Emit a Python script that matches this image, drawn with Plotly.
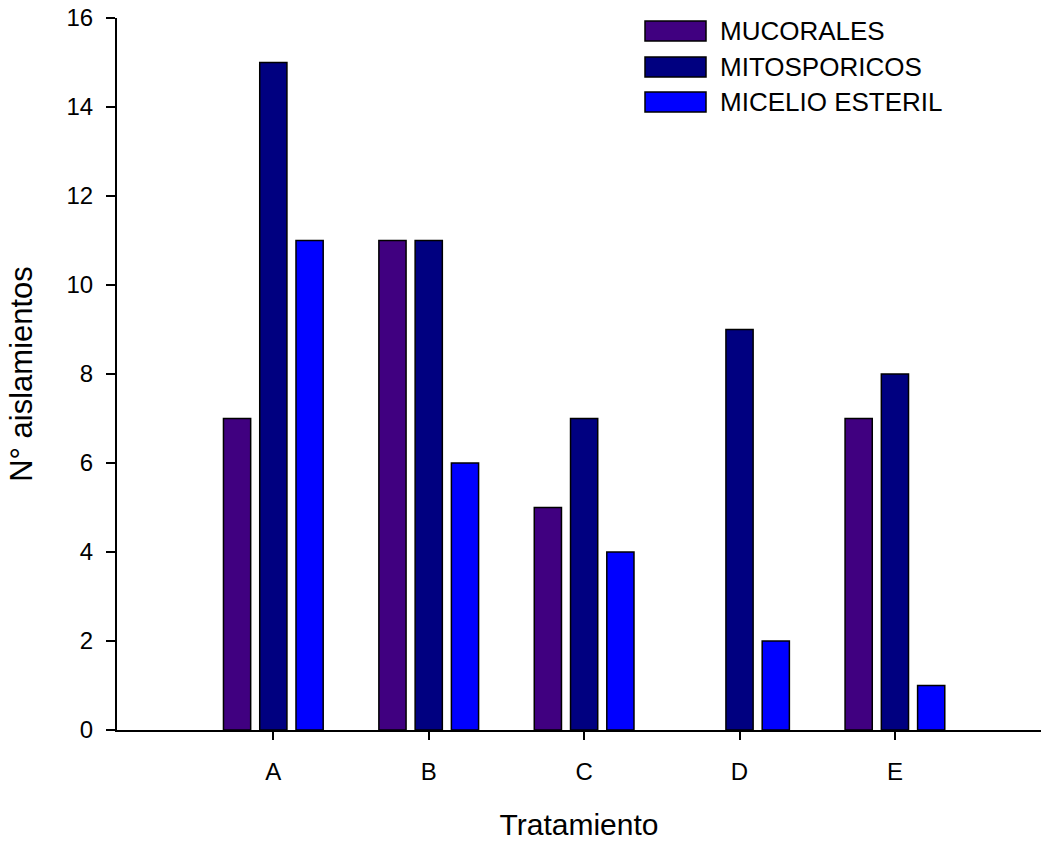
import plotly.graph_objects as go

categories = ["A", "B", "C", "D", "E"]
series_names = ["MUCORALES", "MITOSPORICOS", "MICELIO ESTERIL"]
mucorales = [7, 11, 5, 0, 7]
mitosporicos = [15, 11, 7, 9, 8]
micelio_esteril = [11, 6, 4, 2, 1]
y_ticks = [0, 2, 4, 6, 8, 10, 12, 14, 16]

colors = ["#400080", "#000080", "#0000FF"]
values = [mucorales, mitosporicos, micelio_esteril]

FONT = "Arial, Liberation Sans, sans-serif"
W, H = 1041, 842
ML, MR, MT, MB = 117, 0, 18, 112

fig = go.Figure()
for name, vals, col in zip(series_names, values, colors):
    fig.add_trace(go.Bar(
        x=categories, y=vals, name=name,
        marker=dict(color=col,
                    line=dict(color="black", width=[0 if v == 0 else 1.5 for v in vals])),
        showlegend=False,
    ))

# custom legend (wide swatches like the reference)
pw = W - ML - MR
ph = H - MT - MB
def px_x(p):
    return (p - ML) / pw
def px_y(p):
    return (H - MB - p) / ph

row_centers = [31, 67, 102]
for name, col, yc in zip(series_names, colors, row_centers):
    fig.add_shape(type="rect", xref="paper", yref="paper",
                  x0=px_x(645), x1=px_x(706), y0=px_y(yc + 10), y1=px_y(yc - 10),
                  fillcolor=col, line=dict(color="black", width=1.5))
    fig.add_annotation(xref="paper", yref="paper", x=px_x(718), y=px_y(yc),
                       text=name, showarrow=False, xanchor="left", yanchor="middle",
                       font=dict(family=FONT, size=26, color="black"))

fig.update_layout(
    width=W, height=H,
    margin=dict(l=ML, r=MR, t=MT, b=MB),
    plot_bgcolor="white", paper_bgcolor="white",
    barmode="group", bargap=0.3, bargroupgap=0.25,
    font=dict(family=FONT, color="black"),
)
fig.update_xaxes(
    type="category", range=[-1.006, 4.94],
    showline=True, linecolor="black", linewidth=2, layer="above traces",
    ticks="outside", ticklen=8, tickwidth=2, tickcolor="black",
    showgrid=False, zeroline=False,
    tickfont=dict(family=FONT, size=24, color="black"),
    ticklabelstandoff=11,
    title=dict(text="Tratamiento", font=dict(family=FONT, size=30, color="black"), standoff=30),
)
fig.update_yaxes(
    range=[0, 16], tickvals=y_ticks,
    showline=True, linecolor="black", linewidth=2, layer="above traces",
    ticks="outside", ticklen=9, tickwidth=2, tickcolor="black",
    showgrid=False, zeroline=False,
    tickfont=dict(family=FONT, size=24, color="black"),
    ticklabelstandoff=8,
    title=dict(text="N° aislamientos", font=dict(family=FONT, size=31, color="black"), standoff=25),
)

fig.write_html("out.html")
